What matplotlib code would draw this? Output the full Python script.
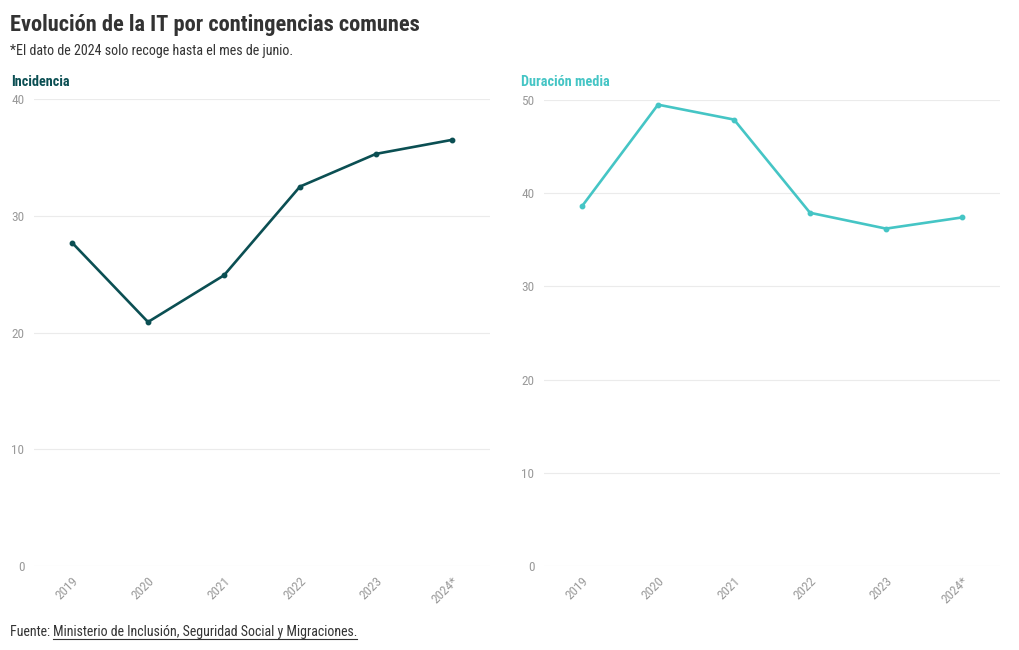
import matplotlib
matplotlib.use("Agg")
import matplotlib.pyplot as plt
from matplotlib import font_manager as fm

years = ["2019", "2020", "2021", "2022", "2023", "2024*"]
incidencia = [27.7, 20.9, 24.9, 32.5, 35.3, 36.5]
duracion = [38.6, 49.5, 47.9, 37.9, 36.2, 37.4]
inc_ticks = [0, 10, 20, 30, 40]
dur_ticks = [0, 10, 20, 30, 40, 50]

names = {f.name for f in fm.fontManager.ttflist}
fam = "Roboto Condensed" if "Roboto Condensed" in names else "Roboto"
plt.rcParams["font.family"] = [fam, "DejaVu Sans"]

DARK = "#0b4f53"
LIGHT = "#45c5c5"
GRID = "#ebebeb"
TICK = "#9a9a9a"
TEXT = "#333333"

fig = plt.figure(figsize=(10.2, 6.5), dpi=100)
W, H = 1020, 650

def add_panel(x0, x1, ytop, ybot, vals, ticks, color, title):
    ax = fig.add_axes([x0 / W, 1 - ybot / H, (x1 - x0) / W, (ybot - ytop) / H])
    x = list(range(len(years)))
    ax.plot(x, vals, color=color, lw=1.9, marker="o", ms=3.2, zorder=3)
    ax.set_xlim(-0.5, len(years) - 0.5)
    ax.set_ylim(ticks[0], ticks[-1])
    ax.set_yticks(ticks)
    ax.set_xticks(x)
    ax.set_xticklabels(years, rotation=45, ha="right", rotation_mode="anchor")
    for s in ax.spines.values():
        s.set_visible(False)
    ax.grid(axis="y", color=GRID, lw=0.8)
    ax.set_axisbelow(True)
    ax.tick_params(axis="both", length=0, colors=TICK, labelsize=9.5)
    ax.tick_params(axis="y", pad=7)
    ax.tick_params(axis="x", pad=6)
    fig.text((x0 - 23) / W, 1 - 82 / H, title, color=color, fontsize=10.3,
             fontweight="bold", va="center", ha="left")
    return ax

add_panel(34, 490, 99, 566, incidencia, inc_ticks, DARK, "Incidencia")
add_panel(544, 1000, 100, 566, duracion, dur_ticks, LIGHT, "Duración media")

fig.text(10 / W, 1 - 25 / H, "Evolución de la IT por contingencias comunes",
         fontsize=16.1, fontweight="bold", color=TEXT, va="center", ha="left")
fig.text(10 / W, 1 - 51 / H, "*El dato de 2024 solo recoge hasta el mes de junio.",
         fontsize=10.1, color=TEXT, va="center", ha="left")
fig.text(10 / W, 1 - 632 / H, "Fuente: ", fontsize=10, color=TEXT,
         va="center", ha="left")
fig.canvas.draw()
t0 = fig.texts[-1]
bb = t0.get_window_extent()
fig.text(bb.x1 / W, 1 - 632 / H, "Ministerio de Inclusión, Seguridad Social y Migraciones.",
         fontsize=10, color=TEXT, va="center", ha="left")
fig.canvas.draw()
bb2 = fig.texts[-1].get_window_extent()
fig.add_artist(plt.Line2D([bb2.x0 / W, (bb2.x1 - 1) / W], [(bb2.y0 + 0.5) / H] * 2,
                          color=TEXT, lw=0.8))

fig.savefig("out.png", dpi=100, facecolor="white")
